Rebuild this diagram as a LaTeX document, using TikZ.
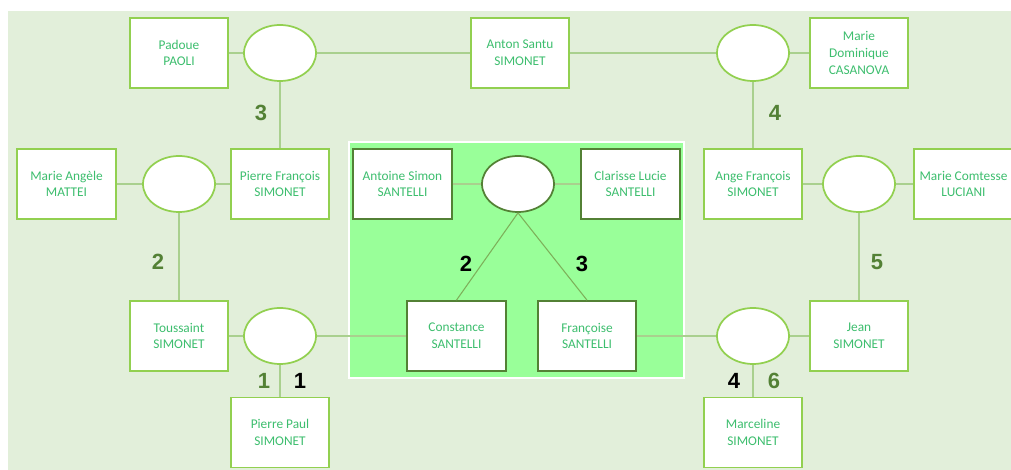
\documentclass[tikz,border=0pt]{standalone}
\usepackage{fontspec}
\setmainfont{Carlito}
\newfontfamily\numfont{Liberation Sans}
\usetikzlibrary{shapes.geometric}
\definecolor{bgpale}{HTML}{E2EFDA}
\definecolor{boxline}{HTML}{92D050}
\definecolor{linklight}{HTML}{A9D08E}
\definecolor{linkdark}{HTML}{7DB05A}
\definecolor{namegreen}{HTML}{3DBE6E}
\definecolor{innerfill}{HTML}{99FF99}
\definecolor{darkgreen}{HTML}{538135}

\begin{document}
\begin{tikzpicture}[x=0.75pt,y=-0.75pt,
    every node/.style={font=\fontsize{10}{12.5}\selectfont},
    person/.style={rectangle,draw=boxline,line width=1.3pt,fill=white,text=namegreen,
      minimum width=74pt,minimum height=52.5pt,align=center,inner sep=1pt},
    inperson/.style={person,draw=darkgreen},
    union/.style={ellipse,draw=boxline,line width=1.3pt,fill=white,minimum width=54pt,minimum height=42pt},
    inunion/.style={union,draw=darkgreen},
    link/.style={linklight,line width=0.8pt},
    inlink/.style={linkdark,line width=0.8pt},
    gen/.style={font=\numfont\bfseries\fontsize{16.5}{16.5}\selectfont,text=darkgreen},
    genb/.style={gen,text=black}]
        \useasboundingbox (0,0) rectangle (1011,470);
        \fill[bgpale] (8,11) rectangle (1011,470);
        \filldraw[fill=innerfill,draw=white,line width=1.5pt] (349,142) rectangle (684,378);
        % top row
        \node[person] (paoli) at (179,53) {Padoue\\PAOLI};
        \node[union] (u1) at (280,53) {};
        \node[person] (anton) at (520,53) {Anton Santu\\SIMONET};
        \node[union] (u2) at (753,53) {};
        \node[person] (casanova) at (859,53) {Marie\\Dominique\\CASANOVA};
        % middle row
        \node[person] (mattei) at (66.5,184) {Marie Angèle\\MATTEI};
        \node[union] (u3) at (179,184) {};
        \node[person] (pierref) at (280,184) {Pierre François\\SIMONET};
        \node[inperson] (antoine) at (402.5,184) {Antoine Simon\\SANTELLI};
        \node[inunion] (u4) at (518,184) {};
        \node[inperson] (clarisse) at (630.5,184) {Clarisse Lucie\\SANTELLI};
        \node[person] (ange) at (753,184) {Ange François\\SIMONET};
        \node[union] (u5) at (859,184) {};
        \node[person] (luciani) at (963.5,184) {Marie Comtesse\\LUCIANI};
        % bottom row
        \node[person] (toussaint) at (179,336) {Toussaint\\SIMONET};
        \node[union] (u6) at (280,336) {};
        \node[inperson] (constance) at (456.5,336) {Constance\\SANTELLI};
        \node[inperson] (francoise) at (587,336) {Françoise\\SANTELLI};
        \node[union] (u7) at (753,336) {};
        \node[person] (jean) at (859,336) {Jean\\SIMONET};
        \node[person] (pierrep) at (280,432.5) {Pierre Paul\\SIMONET};
        \node[person] (marceline) at (753,432.5) {Marceline\\SIMONET};
        % links
        \draw[link] (paoli) -- (u1) -- (anton) -- (u2) -- (casanova);
        \draw[link] (u1) -- (pierref);
        \draw[link] (u2) -- (ange);
        \draw[link] (mattei) -- (u3) -- (pierref);
        \draw[link] (u3) -- (toussaint);
        \draw[link] (ange) -- (u5) -- (luciani);
        \draw[link] (u5) -- (jean);
        \draw[link] (toussaint) -- (u6) -- (constance);
        \draw[link] (u6) -- (pierrep);
        \draw[link] (francoise) -- (u7) -- (jean);
        \draw[link] (u7) -- (marceline);
        \draw[link] (antoine) -- (u4) -- (clarisse);
        \draw[inlink] (u4.south) -- (constance.north);
        \draw[inlink] (u4.south) -- (francoise.north);
        % generation numbers
        \node[gen] (n3a) at (261,113) {3};
        \node[gen] (n4a) at (775,113) {4};
        \node[gen] (n2a) at (158,262) {2};
        \node[gen] (n5a) at (877,262) {5};
        \node[gen] (n1a) at (264,381) {1};
        \node[genb] (n1b) at (300,381) {1};
        \node[genb] (n4b) at (734,381) {4};
        \node[gen] (n6a) at (774,381) {6};
        \node[genb] (n2b) at (466,264) {2};
        \node[genb] (n3b) at (582,264) {3};
\end{tikzpicture}
\end{document}
